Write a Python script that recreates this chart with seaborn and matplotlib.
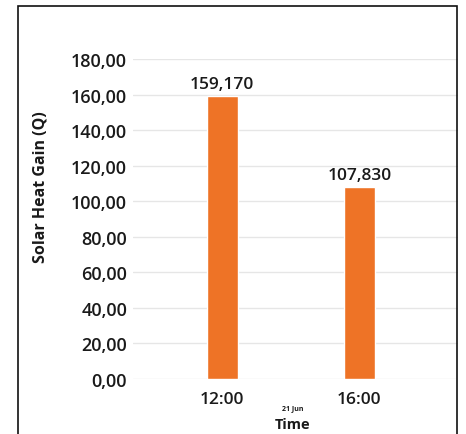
import matplotlib
matplotlib.use("Agg")
import matplotlib.pyplot as plt
from matplotlib.patches import Rectangle
import seaborn as sns
import pandas as pd

# Solar heat gain on 21 June at two times of day
times = ["12:00", "16:00"]
heat_gain = [159.170, 107.830]
y_ticks = [0, 20, 40, 60, 80, 100, 120, 140, 160, 180]

df = pd.DataFrame({"Time": times, "Gain": heat_gain})

sns.set_theme(style="white")
plt.rcParams["font.family"] = ["Open Sans", "DejaVu Sans"]

fig = plt.figure(figsize=(4.66, 4.35), dpi=100)
ax = fig.add_axes([133 / 466, 1 - 380 / 435, (458 - 133) / 466, 320 / 435])

sns.barplot(data=df, x="Time", y="Gain", color="#ee7326", width=0.226,
            saturation=1, ax=ax, zorder=3)

ax.set_ylim(0, 180)
ax.set_xlim(-0.65, 1.72)
ax.set_yticks(y_ticks)
ax.set_yticklabels([f"{v:.2f}".replace(".", ",") for v in y_ticks],
                   fontsize=13, fontweight="semibold", color="#1a1a1a")
ax.set_xticks(range(len(times)))
ax.set_xticklabels(times, fontsize=12.5, fontweight="semibold", color="#1a1a1a")
ax.tick_params(axis="y", length=0, pad=4.3)
ax.tick_params(axis="x", length=0, pad=8.5)
ax.yaxis.grid(True, color="#e6e6e6", linewidth=1, zorder=0)
ax.set_axisbelow(True)
for s in ax.spines.values():
    s.set_visible(False)
ax.set_xlabel("")
ax.set_ylabel("")

# value labels above each bar
for i, v in enumerate(heat_gain):
    ax.annotate(f"{v:.3f}".replace(".", ","), (i, v), xytext=(0, 3),
                textcoords="offset points", ha="center", va="bottom",
                fontsize=12.5, fontweight="semibold", color="#1a1a1a",
                annotation_clip=False)

fig.text(41 / 466, 1 - 187 / 435, "Solar Heat Gain (Q)", rotation=90,
         ha="center", va="center", fontsize=11.5, fontweight="bold",
         color="#1a1a1a")
fig.text(293 / 466, 1 - 409 / 435, "21 Jun", ha="center", va="center",
         fontsize=5, fontweight="bold", color="#1a1a1a")
fig.text(293 / 466, 1 - 425 / 435, "Time", ha="center", va="center",
         fontsize=10.5, fontweight="bold", color="#1a1a1a")

# outer frame
fig.patches.append(Rectangle((18 / 466, -0.1), (457 - 18) / 466, 1.1 - 7 / 435,
                             transform=fig.transFigure, fill=False,
                             edgecolor="#111111", linewidth=1.2))

fig.savefig("out.png", dpi=100, facecolor="white")
